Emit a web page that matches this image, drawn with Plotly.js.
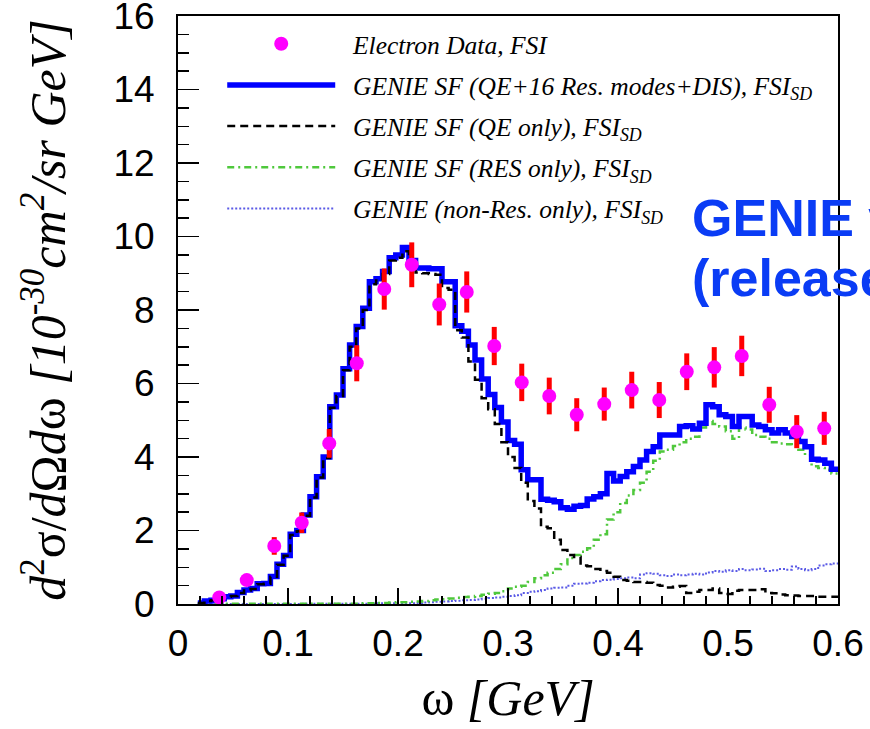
<!DOCTYPE html>
<html><head><meta charset="utf-8">
<script src="https://cdn.plot.ly/plotly-3.0.1.min.js"></script>
<style>html,body{margin:0;padding:0;background:#fff;}#chart{width:870px;height:729px;}</style>
</head><body><div id="chart"></div>
<script>
// histogram binning (GeV)
const binStart = 0.018;
const binWidth = 0.006;

// GENIE SF total (QE + 16 Res. modes + DIS), FSI_SD
const totalSF = [0.03,0.08,0.10,0.14,0.20,0.22,0.31,0.38,0.42,0.55,0.56,0.75,1.08,1.32,1.90,2.00,2.42,2.92,3.46,4.00,
 5.37,5.69,6.40,7.05,7.55,8.05,8.77,8.85,9.05,9.42,9.50,9.70,9.35,9.14,9.14,9.12,9.12,8.77,8.77,7.57,
 7.42,7.05,6.64,6.12,5.70,5.35,4.95,4.45,4.35,3.65,3.38,3.38,2.85,2.82,2.78,2.62,2.58,2.66,2.68,2.86,
 2.92,3.00,3.55,3.35,3.47,3.60,3.74,3.92,4.15,4.28,4.60,4.60,4.60,4.83,4.85,4.76,4.92,5.42,5.37,5.15,
 5.10,4.83,5.10,5.10,4.87,4.83,4.74,4.65,4.74,4.65,4.56,4.42,4.28,3.94,3.92,3.83,3.67];
// GENIE SF QE only
const qeOnly = [0.03,0.08,0.10,0.14,0.20,0.22,0.30,0.37,0.41,0.54,0.55,0.74,1.07,1.31,1.88,1.98,2.40,2.90,3.44,3.97,
 5.34,5.66,6.36,7.00,7.50,8.00,8.70,8.80,8.98,9.35,9.42,9.60,9.25,9.02,9.00,8.98,8.96,8.60,8.55,7.45,
 7.25,6.60,6.10,5.60,5.30,4.90,4.40,4.00,3.70,3.30,2.80,2.60,2.10,2.06,1.75,1.47,1.33,1.28,1.05,1.03,
 0.95,0.90,0.85,0.74,0.65,0.63,0.60,0.60,0.58,0.52,0.50,0.45,0.47,0.49,0.30,0.33,0.38,0.38,0.42,0.30,
 0.27,0.36,0.38,0.38,0.38,0.40,0.30,0.29,0.26,0.24,0.23,0.22,0.22,0.22,0.20,0.20,0.20];
// GENIE SF RES only
const resOnly = [0.01,0.01,0.01,0.01,0.01,0.01,0.01,0.01,0.01,0.01,0.01,0.01,0.01,0.01,0.01,0.01,0.01,0.01,0.01,0.01,
 0.01,0.01,0.01,0.01,0.01,0.02,0.02,0.03,0.03,0.04,0.05,0.05,0.06,0.07,0.08,0.10,0.12,0.13,0.15,0.17,
 0.19,0.20,0.22,0.25,0.28,0.30,0.35,0.42,0.47,0.50,0.60,0.70,0.78,0.85,0.95,1.08,1.25,1.33,1.42,1.52,
 1.75,1.90,2.30,2.50,2.75,2.95,3.10,3.30,3.60,3.90,4.15,4.20,4.30,4.40,4.50,4.55,4.80,4.98,4.90,4.83,
 4.70,4.50,4.80,4.75,4.60,4.55,4.50,4.40,4.37,4.35,4.30,4.20,4.05,3.75,3.70,3.65,3.55];
// GENIE non-Res only
const nonResOnly = [0.00,0.00,0.00,0.00,0.00,0.00,0.00,0.00,0.00,0.00,0.00,0.00,0.00,0.00,0.00,0.00,0.01,0.01,0.01,0.01,
 0.01,0.01,0.01,0.01,0.01,0.01,0.01,0.02,0.02,0.02,0.02,0.02,0.02,0.03,0.04,0.05,0.06,0.07,0.08,0.09,
 0.10,0.11,0.12,0.14,0.16,0.18,0.20,0.22,0.24,0.30,0.33,0.35,0.38,0.42,0.44,0.45,0.50,0.55,0.56,0.58,
 0.62,0.65,0.66,0.68,0.70,0.72,0.70,0.80,0.84,0.82,0.78,0.76,0.80,0.78,0.80,0.82,0.80,0.86,0.90,0.88,
 0.92,0.90,0.95,0.92,0.94,0.96,0.90,0.92,0.95,0.93,1.02,0.95,0.92,0.95,1.05,1.08,1.10];

// Electron data
const dataOmega = [0.0375,0.0625,0.0875,0.1125,0.1375,0.1625,0.1875,0.2125,0.2375,0.2625,0.2875,0.3125,
 0.3375,0.3625,0.3875,0.4125,0.4375,0.4625,0.4875,0.5125,0.5375,0.5625,0.5875];
const dataXsec = [0.18,0.65,1.58,2.21,4.37,6.55,8.57,9.23,8.15,8.49,7.02,6.03,5.66,5.15,5.44,5.82,5.55,6.32,6.44,6.75,5.42,4.69,4.78];
const dataErr = [0.08,0.12,0.24,0.28,0.39,0.49,0.56,0.61,0.57,0.56,0.52,0.51,0.50,0.45,0.45,0.50,0.49,0.50,0.55,0.55,0.49,0.45,0.45];

const sp = '\u00a0\u00a0';
const legendNames = [
  sp + '<i>Electron Data, FSI</i>',
  sp + '<i>GENIE SF (QE+16 Res. modes+DIS), FSI<sub>SD</sub></i>',
  sp + '<i>GENIE SF (QE only), FSI<sub>SD</sub></i>',
  sp + '<i>GENIE SF (RES only), FSI<sub>SD</sub></i>',
  sp + '<i>GENIE (non-Res. only), FSI<sub>SD</sub></i>'
];

function binEdges(n){ const e=[]; for(let i=0;i<=n;i++) e.push(+(binStart+i*binWidth).toFixed(4)); return e; }
function stepVals(v){ return v.concat([v[v.length-1]]); }
const edges = binEdges(totalSF.length);

const traces = [
  {x: edges, y: stepVals(nonResOnly), type:'scatter', mode:'lines', line:{shape:'hv', color:'#5a5ae6', width:2, dash:'2px,2px'},
   name: legendNames[4], legendrank:5, legendgroup:'e'},
  {x: edges, y: stepVals(resOnly), type:'scatter', mode:'lines', line:{shape:'hv', color:'#4fc83c', width:2.5, dash:'7px,4px,2px,4px'},
   name: legendNames[3], legendrank:4, legendgroup:'d'},
  {x: edges, y: stepVals(totalSF), type:'scatter', mode:'lines', line:{shape:'hv', color:'#0000ff', width:5.5},
   name: legendNames[1], legendrank:2, legendgroup:'b'},
  {x: edges, y: stepVals(qeOnly), type:'scatter', mode:'lines', line:{shape:'hv', color:'#000000', width:2.5, dash:'8px,5px'},
   name: legendNames[2], legendrank:3, legendgroup:'c'},
  {x: dataOmega, y: dataXsec, type:'scatter', mode:'markers', marker:{color:'#ff00ff', size:14},
   error_y:{type:'data', array:dataErr, color:'#ff0000', thickness:5, width:0},
   name: legendNames[0], legendrank:1, legendgroup:'a'}
];

const layout = {
  width:870, height:729,
  margin:{l:178, r:32, t:16, b:125},
  paper_bgcolor:'#fff', plot_bgcolor:'#fff',
  showlegend:true,
  legend:{x:0.067, y:0.992, xanchor:'left', yanchor:'top', bgcolor:'rgba(0,0,0,0)', borderwidth:0,
    font:{family:'Liberation Serif', size:25.5, color:'#000'}, itemwidth:108, traceorder:'grouped', tracegroupgap:5},
  xaxis:{range:[0,0.6], dtick:0.1, tick0:0, ticks:'inside', ticklen:16, tickwidth:1.5, tickcolor:'#000',
    minor:{dtick:0.02, ticks:'inside', ticklen:8, tickwidth:1.5, tickcolor:'#000'},
    showline:true, linecolor:'#000', linewidth:2, mirror:true, showgrid:false, zeroline:false,
    tickfont:{family:'Liberation Sans', size:37, color:'#000'}, ticklabelstandoff:6, ticklabeloverflow:'allow',
    title:{text:'ω <i>[GeV]</i>', font:{family:'Liberation Serif', size:50, color:'#000'}, standoff:17}},
  yaxis:{range:[0,16.0001], dtick:2, tick0:0, ticks:'inside', ticklen:21, tickwidth:1.5, tickcolor:'#000',
    minor:{dtick:0.5, ticks:'inside', ticklen:11, tickwidth:1.5, tickcolor:'#000'},
    showline:true, linecolor:'#000', linewidth:2, mirror:true, showgrid:false, zeroline:false,
    tickfont:{family:'Liberation Sans', size:37, color:'#000'}, ticklabelstandoff:14, ticklabeloverflow:'allow',
    title:{text:'<i>d</i><sup>2</sup>σ/<i>d</i>Ω<i>d</i>ω <i>[10<sup>-30</sup>cm<sup>2</sup>/sr GeV]</i>',
      font:{family:'Liberation Serif', size:50, color:'#000'}, standoff:32}},
  annotations:[
    {text:'<b>GENIE v3</b>', xref:'paper', yref:'paper', x:0.776, y:0.657, xanchor:'left', yanchor:'middle', showarrow:false,
     font:{family:'Liberation Sans', size:52, color:'#0a3cf5'}},
    {text:'<b>(release 3.0)</b>', xref:'paper', yref:'paper', x:0.776, y:0.555, xanchor:'left', yanchor:'middle', showarrow:false,
     font:{family:'Liberation Sans', size:52, color:'#0a3cf5'}}
  ]
};

Plotly.newPlot('chart', traces, layout, {displayModeBar:false, staticPlot:true});
</script>
</body></html>
